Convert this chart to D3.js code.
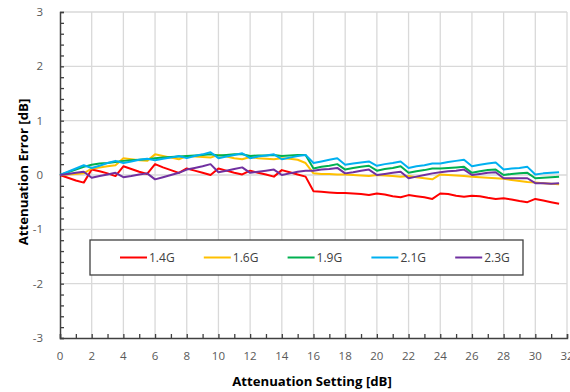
<!DOCTYPE html>
<meta charset="utf-8">
<html lang="en">
<head>
<script src="https://d3js.org/d3.v7.min.js"></script>
<style>
  body { margin: 0; background: #fff; }
  text { font-family: "Open Sans", "Liberation Sans", sans-serif; }
</style>
</head>
<body>
<div id="chart"></div>
<script>
// attenuation setting in dB, 0 .. 31.5 step 0.5
const settings = d3.range(0, 32, 0.5);
const seriesNames = ["1.4G", "1.6G", "1.9G", "2.1G", "2.3G"];
const colours = ["#ff0000", "#ffc000", "#00b050", "#00b0f0", "#7030a0"];

const err14 = [0, -0.05, -0.1, -0.14, 0.1, 0.07, 0.03, -0.02, 0.16, 0.11, 0.06, 0.02, 0.2, 0.14, 0.09, 0.04,
  0.12, 0.08, 0.04, 0.0, 0.12, 0.08, 0.04, 0.01, 0.08, 0.04, 0.01, -0.03, 0.09, 0.05, 0.01, -0.03,
  -0.3, -0.31, -0.32, -0.33, -0.33, -0.34, -0.35, -0.37, -0.34, -0.36, -0.39, -0.41, -0.37, -0.39, -0.41, -0.44,
  -0.34, -0.35, -0.38, -0.4, -0.38, -0.39, -0.42, -0.44, -0.43, -0.45, -0.48, -0.5, -0.44, -0.47, -0.5, -0.53];
const err16 = [0, 0.01, 0.02, 0.03, 0.12, 0.14, 0.16, 0.18, 0.31, 0.29, 0.27, 0.26, 0.38, 0.35, 0.32, 0.29,
  0.35, 0.34, 0.33, 0.32, 0.37, 0.34, 0.31, 0.29, 0.33, 0.31, 0.3, 0.29, 0.31, 0.3, 0.28, 0.22,
  0.03, 0.02, 0.02, 0.01, 0.01, 0.0, -0.01, -0.02, 0.0, -0.01, -0.02, -0.03, -0.02, -0.04, -0.06, -0.08,
  0.01, 0.0, -0.01, -0.02, -0.03, -0.04, -0.05, -0.06, -0.07, -0.09, -0.11, -0.13, -0.14, -0.15, -0.16, -0.17];
const err19 = [0, 0.05, 0.1, 0.15, 0.19, 0.21, 0.22, 0.24, 0.26, 0.27, 0.28, 0.29, 0.31, 0.32, 0.33, 0.34,
  0.35, 0.36, 0.37, 0.38, 0.36, 0.37, 0.38, 0.38, 0.35, 0.36, 0.36, 0.37, 0.35, 0.36, 0.37, 0.37,
  0.12, 0.15, 0.17, 0.2, 0.1, 0.13, 0.15, 0.17, 0.08, 0.11, 0.13, 0.16, 0.04, 0.07, 0.09, 0.12,
  0.12, 0.13, 0.14, 0.15, 0.04, 0.07, 0.09, 0.1, 0.0, 0.02, 0.03, 0.04, -0.06, -0.05, -0.04, -0.03];
const err21 = [0, 0.06, 0.12, 0.18, 0.13, 0.17, 0.22, 0.26, 0.22, 0.25, 0.28, 0.3, 0.27, 0.3, 0.32, 0.35,
  0.31, 0.35, 0.38, 0.42, 0.31, 0.34, 0.37, 0.4, 0.31, 0.34, 0.36, 0.38, 0.29, 0.32, 0.35, 0.37,
  0.22, 0.25, 0.28, 0.31, 0.19, 0.21, 0.23, 0.25, 0.17, 0.2, 0.22, 0.25, 0.13, 0.16, 0.18, 0.21,
  0.21, 0.24, 0.26, 0.28, 0.16, 0.19, 0.21, 0.23, 0.1, 0.12, 0.13, 0.15, 0.01, 0.03, 0.04, 0.05];
const err23 = [0, 0.02, 0.04, 0.06, -0.05, -0.02, 0.01, 0.04, -0.04, -0.02, 0.01, 0.03, -0.08, -0.04, 0.0, 0.04,
  0.1, 0.13, 0.16, 0.2, 0.05, 0.08, 0.11, 0.14, 0.04, 0.06, 0.08, 0.1, 0.0, 0.03, 0.06, 0.08,
  0.08, 0.1, 0.11, 0.13, 0.03, 0.05, 0.08, 0.1, 0.0, 0.02, 0.04, 0.06, -0.06, -0.03, 0.0, 0.03,
  0.05, 0.07, 0.08, 0.1, 0.0, 0.02, 0.04, 0.05, -0.06, -0.06, -0.06, -0.06, -0.15, -0.15, -0.16, -0.15];
const allErrors = [err14, err16, err19, err21, err23];

const xTicks = d3.range(0, 33, 2);
const yTicks = d3.range(-3, 4, 1);

const W = 570, H = 392;
const plotL = 60, plotR = 567, plotT = 12, plotB = 338;

const svg = d3.select("#chart").append("svg")
  .attr("width", W).attr("height", H);

const x = d3.scaleLinear().domain([0, 32]).range([plotL, plotR]);
const y = d3.scaleLinear().domain([-3, 3]).range([plotB, plotT]);

// gridlines
svg.append("g").selectAll("line").data(xTicks.slice(1)).join("line")
  .attr("x1", d => x(d)).attr("x2", d => x(d))
  .attr("y1", plotT).attr("y2", plotB)
  .attr("stroke", "#d9d9d9").attr("stroke-width", 1.3);
svg.append("g").selectAll("line").data(yTicks.filter(d => d != -3)).join("line")
  .attr("x1", plotL).attr("x2", plotR)
  .attr("y1", d => y(d)).attr("y2", d => y(d))
  .attr("stroke", "#d9d9d9").attr("stroke-width", 1.3);

// axes (ticks point inward)
const yAxis = svg.append("g").attr("transform", `translate(${plotL},0)`)
  .call(d3.axisRight(y).tickValues(d3.range(-3, 3.01, 0.2)).tickSize(4).tickFormat(""));
const xAxis = svg.append("g").attr("transform", `translate(0,${plotB})`)
  .call(d3.axisTop(x).tickValues(d3.range(0, 33, 1)).tickSize(4).tickFormat(""));
[xAxis, yAxis].forEach(a => {
  a.select(".domain").attr("stroke", "#404040").attr("stroke-width", 1.5);
  a.selectAll(".tick line").attr("stroke", "#404040").attr("stroke-width", 1.3);
});

// tick labels
svg.append("g").selectAll("text").data(yTicks).join("text")
  .attr("x", 43).attr("y", d => y(d)).attr("dy", "0.35em")
  .attr("text-anchor", "end").attr("font-size", 11.5).attr("fill", "#595959")
  .text(d => d);
svg.append("g").selectAll("text").data(xTicks).join("text")
  .attr("x", d => x(d)).attr("y", 356).attr("dy", "0.35em")
  .attr("text-anchor", "middle").attr("font-size", 11.5).attr("fill", "#595959")
  .text(d => d);

// axis titles
svg.append("text").attr("x", 312).attr("y", 381).attr("dy", "0.35em")
  .attr("text-anchor", "middle").attr("font-size", 13.2).attr("font-weight", "bold")
  .attr("fill", "#000").text("Attenuation Setting [dB]");
svg.append("text").attr("transform", "translate(23,172) rotate(-90)").attr("dy", "0.35em")
  .attr("text-anchor", "middle").attr("font-size", 13.2).attr("font-weight", "bold")
  .attr("fill", "#000").text("Attenuation Error [dB]");

// lines
const line = d3.line().x((d, i) => x(settings[i])).y(d => y(d));
svg.append("g").selectAll("path").data(allErrors).join("path")
  .attr("d", d => line(d))
  .attr("fill", "none")
  .attr("stroke", (d, i) => colours[i])
  .attr("stroke-width", 2)
  .attr("stroke-linejoin", "round");

// legend
const legend = svg.append("g");
legend.append("rect").attr("x", 90).attr("y", 240).attr("width", 433).attr("height", 35)
  .attr("fill", "#fff").attr("stroke", "#404040").attr("stroke-width", 1.3);
const item = legend.selectAll("g.item").data(seriesNames).join("g")
  .attr("class", "item")
  .attr("transform", (d, i) => `translate(${120 + i * 83.8},257.5)`);
item.append("line").attr("x1", 0).attr("x2", 27)
  .attr("stroke", (d, i) => colours[i]).attr("stroke-width", 2);
item.append("text").attr("x", 29).attr("dy", "0.35em")
  .attr("font-size", 12).attr("fill", "#404040").text(d => d);
</script>
</body>
</html>
